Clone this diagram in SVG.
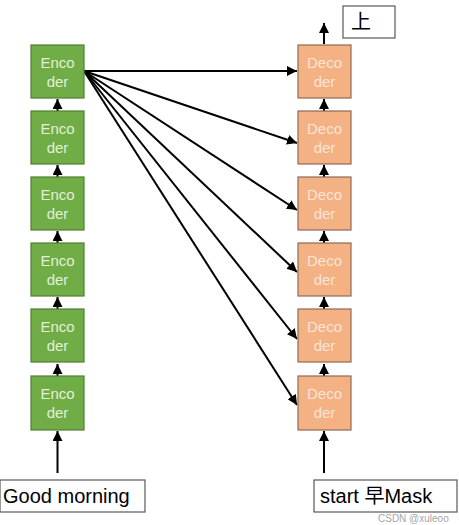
<svg xmlns="http://www.w3.org/2000/svg" width="459" height="525" viewBox="0 0 459 525">
<defs>
<marker id="ah" viewBox="0 0 10 10" refX="10" refY="5" markerWidth="5" markerHeight="5" orient="auto" markerUnits="strokeWidth">
<path d="M0,0 L10,5 L0,10 z" fill="#000"/>
</marker>
<style>
.enc rect{fill:#70ad47;stroke:#507e32;stroke-width:1.2}
.enc text{fill:#e2f0d9;font-family:"Liberation Sans",Arial,sans-serif;font-size:15px;text-anchor:middle}
.dec rect{fill:#f4b183;stroke:#8f6a52;stroke-width:1.2}
.dec text{fill:#fbe5d6;font-family:"Liberation Sans",Arial,sans-serif;font-size:15px;text-anchor:middle}
.lbl rect{fill:#fff;stroke:#595959;stroke-width:1.2}
.lbl text{fill:#000;font-family:"Liberation Sans","Noto Sans CJK SC",sans-serif;font-size:20px}
.c line{stroke:#000;stroke-width:2;marker-end:url(#ah)}
</style>
</defs>
<rect width="459" height="525" fill="#fff"/>
<g class="c" id="connectors">
<line x1="57.5" y1="111" x2="57.5" y2="99"/>
<line x1="57.5" y1="177" x2="57.5" y2="165"/>
<line x1="57.5" y1="243" x2="57.5" y2="231"/>
<line x1="57.5" y1="309" x2="57.5" y2="297"/>
<line x1="57.5" y1="376" x2="57.5" y2="364"/>
<line x1="57.5" y1="473" x2="57.5" y2="431"/>
<line x1="324" y1="111" x2="324" y2="99"/>
<line x1="324" y1="177" x2="324" y2="165"/>
<line x1="324" y1="243" x2="324" y2="231"/>
<line x1="324" y1="309" x2="324" y2="297"/>
<line x1="324" y1="376" x2="324" y2="364"/>
<line x1="324" y1="473" x2="324" y2="431"/>
<line x1="324" y1="44" x2="324" y2="23"/>
<line x1="84" y1="71" x2="297" y2="71"/>
<line x1="84" y1="71" x2="297" y2="143"/>
<line x1="84" y1="71" x2="297" y2="210"/>
<line x1="84" y1="71" x2="297" y2="272"/>
<line x1="84" y1="71" x2="297" y2="339"/>
<line x1="84" y1="71" x2="297" y2="405"/>
</g>
<g class="enc" id="enc6"><rect x="31" y="45" width="53" height="53"/><text x="57.5" y="68">Enco</text><text x="57.5" y="87">der</text></g>
<g class="enc" id="enc5"><rect x="31" y="111" width="53" height="53"/><text x="57.5" y="134">Enco</text><text x="57.5" y="153">der</text></g>
<g class="enc" id="enc4"><rect x="31" y="177" width="53" height="53"/><text x="57.5" y="200">Enco</text><text x="57.5" y="219">der</text></g>
<g class="enc" id="enc3"><rect x="31" y="243" width="53" height="53"/><text x="57.5" y="266">Enco</text><text x="57.5" y="285">der</text></g>
<g class="enc" id="enc2"><rect x="31" y="309" width="53" height="53"/><text x="57.5" y="332">Enco</text><text x="57.5" y="351">der</text></g>
<g class="enc" id="enc1"><rect x="31" y="376" width="53" height="54"/><text x="57.5" y="399">Enco</text><text x="57.5" y="418">der</text></g>
<g class="dec" id="dec6"><rect x="298" y="45" width="53" height="53"/><text x="324.5" y="68">Deco</text><text x="324.5" y="87">der</text></g>
<g class="dec" id="dec5"><rect x="298" y="111" width="53" height="53"/><text x="324.5" y="134">Deco</text><text x="324.5" y="153">der</text></g>
<g class="dec" id="dec4"><rect x="298" y="177" width="53" height="53"/><text x="324.5" y="200">Deco</text><text x="324.5" y="219">der</text></g>
<g class="dec" id="dec3"><rect x="298" y="243" width="53" height="53"/><text x="324.5" y="266">Deco</text><text x="324.5" y="285">der</text></g>
<g class="dec" id="dec2"><rect x="298" y="309" width="53" height="53"/><text x="324.5" y="332">Deco</text><text x="324.5" y="351">der</text></g>
<g class="dec" id="dec1"><rect x="298" y="376" width="53" height="54"/><text x="324.5" y="399">Deco</text><text x="324.5" y="418">der</text></g>
<g class="lbl" id="out"><rect x="343" y="6" width="52" height="32"/><text x="351" y="29">上</text></g>
<g class="lbl" id="in-enc"><rect x="0" y="480" width="145" height="32"/><text x="3" y="503">Good morning</text></g>
<g class="lbl" id="in-dec"><rect x="314" y="480" width="143" height="32"/><text x="320" y="503">start 早Mask</text></g>
<text x="378" y="522" fill="#a6a6a6" font-family="'Liberation Sans',Arial,sans-serif" font-size="10">CSDN @xuleoo</text>
</svg>
